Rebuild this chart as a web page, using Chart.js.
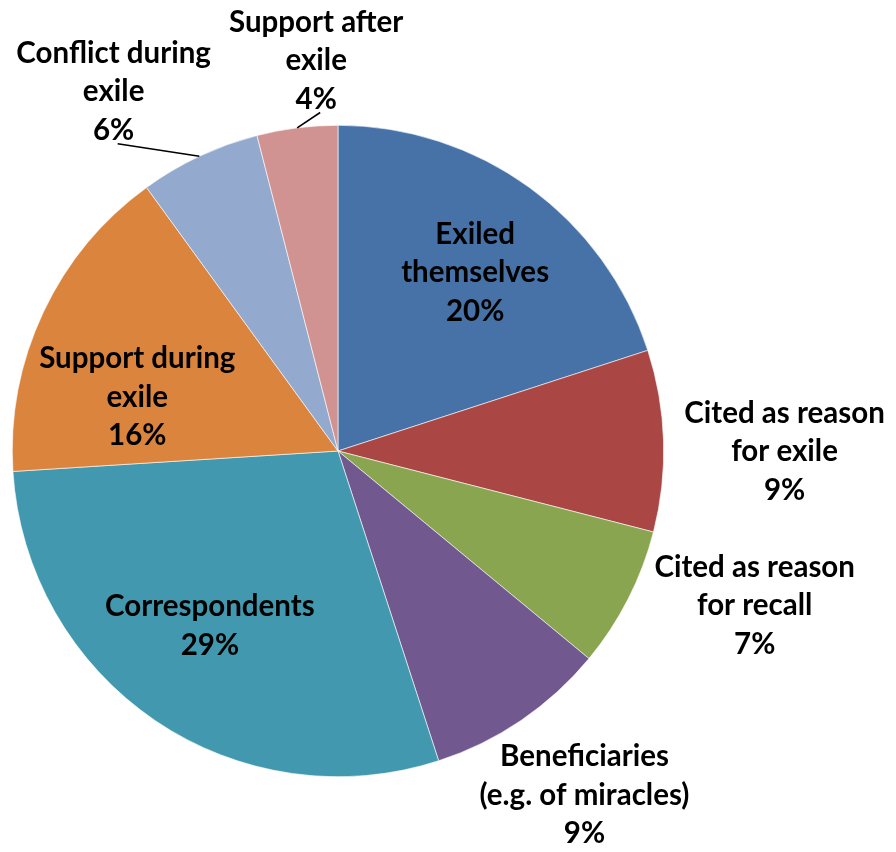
<!DOCTYPE html>
<html>
<head>
<meta charset="utf-8">
<script src="https://cdn.jsdelivr.net/npm/chart.js@4.4.1/dist/chart.umd.min.js"></script>
<style>
  html, body { margin: 0; padding: 0; background: #fff; }
  #wrap { width: 896px; height: 852px; position: relative; }
</style>
</head>
<body>
<div id="wrap"><canvas id="pie"></canvas></div>
<script>
const categories = [
  'Exiled\nthemselves',
  'Cited as reason\nfor exile',
  'Cited as reason\nfor recall',
  'Beneficiaries\n(e.g. of miracles)',
  'Correspondents',
  'Support during\nexile',
  'Conflict during\nexile',
  'Support after\nexile'
];
const shares = [20, 9, 7, 9, 29, 16, 6, 4];
const sliceColors = ['#4672A8', '#AA4644', '#8AA54F', '#71588F', '#4298AF', '#DB843D', '#93A9CE', '#D19392'];

// where each label sits: distance from the centre (fraction of radius) and a nudge off the slice middle (degrees)
const labelRadius = [0.69, 1.371, 1.365, 1.30, 0.666, 0.638, 1.30, 1.20];
const labelNudge = [1.6, 1.9, -6.6, -1.4, 2.0, -10.2, -6.8, 4.0];
const withLeader = [false, false, false, false, false, false, true, true];

const LINE_H = 38.5;

const pieLabels = {
  id: 'pieLabels',
  afterDatasetsDraw(chart) {
    const ctx = chart.ctx;
    const meta = chart.getDatasetMeta(0);
    ctx.save();
    ctx.font = 'bold 29.5px Lato, "Open Sans", sans-serif';
    ctx.fillStyle = '#000';
    ctx.textAlign = 'center';
    ctx.textBaseline = 'middle';
    meta.data.forEach((arc, i) => {
      const p = arc.getProps(['x', 'y', 'startAngle', 'endAngle', 'outerRadius'], true);
      const mid = (p.startAngle + p.endAngle) / 2;
      const a = mid + labelNudge[i] * Math.PI / 180;
      const lx = p.x + Math.cos(a) * p.outerRadius * labelRadius[i];
      const ly = p.y + Math.sin(a) * p.outerRadius * labelRadius[i];
      const lines = categories[i].split('\n').concat([shares[i] + '%']);
      const top = ly - (lines.length - 1) * LINE_H / 2;
      lines.forEach((t, k) => ctx.fillText(t, lx, top + k * LINE_H));
      if (withLeader[i]) {
        const ex = p.x + Math.cos(mid) * p.outerRadius;
        const ey = p.y + Math.sin(mid) * p.outerRadius;
        ctx.beginPath();
        ctx.moveTo(ex, ey);
        ctx.lineTo(lx + 4, ly + lines.length * LINE_H / 2 - 6);
        ctx.strokeStyle = '#000';
        ctx.lineWidth = 1.6;
        ctx.stroke();
      }
    });
    ctx.restore();
  }
};

new Chart(document.getElementById('pie'), {
  type: 'pie',
  data: {
    labels: categories.map(c => c.replace('\n', ' ')),
    datasets: [{
      data: shares,
      backgroundColor: sliceColors,
      borderColor: '#fff',
      borderWidth: 0.6
    }]
  },
  options: {
    responsive: true,
    maintainAspectRatio: false,
    animation: false,
    layout: { padding: { left: 12, right: 232, top: 125, bottom: 75 } },
    plugins: {
      legend: { display: false },
      tooltip: { enabled: false }
    }
  },
  plugins: [pieLabels]
});
</script>
</body>
</html>
